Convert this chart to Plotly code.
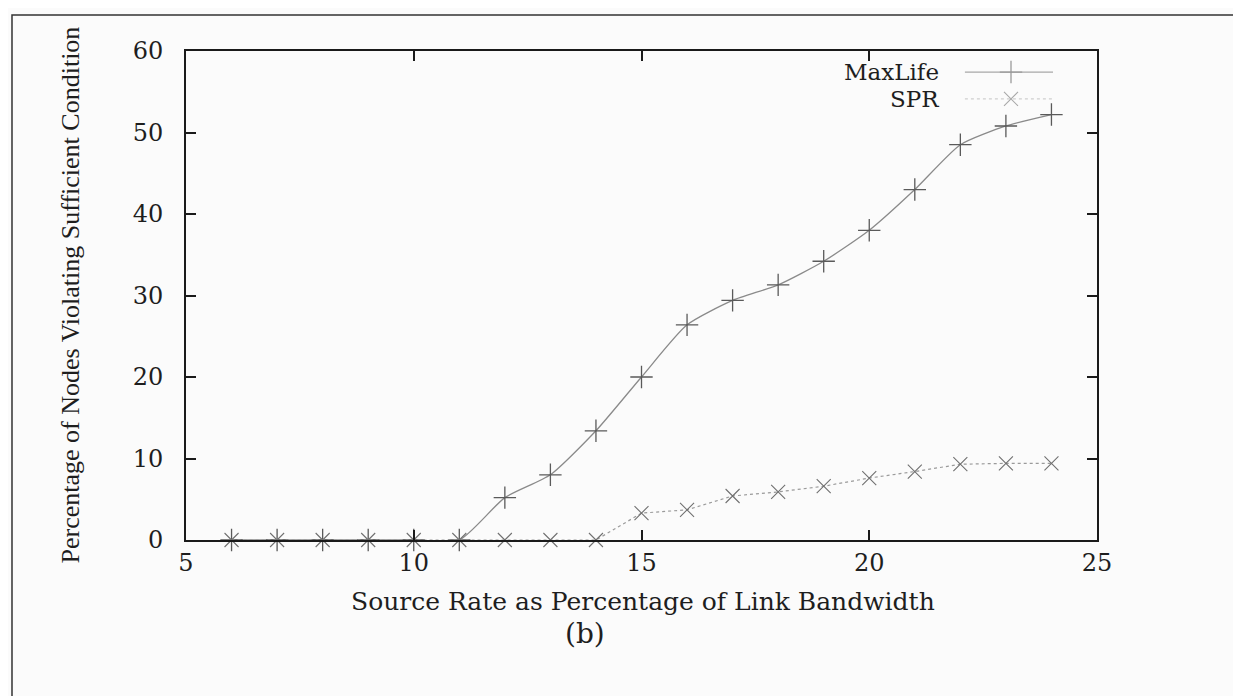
import plotly.graph_objects as go

# ---- data ----
x_rate = [6, 7, 8, 9, 10, 11, 12, 13, 14, 15, 16, 17, 18, 19, 20, 21, 22, 23, 24]
maxlife = [0, 0, 0, 0, 0, 0, 5.2, 8.0, 13.4, 20.0, 26.4, 29.4, 31.3, 34.2, 38.0, 43.0, 48.5, 50.8, 52.2]
spr = [0, 0, 0, 0, 0, 0, 0, 0, 0, 3.3, 3.7, 5.4, 5.9, 6.6, 7.6, 8.4, 9.3, 9.4, 9.4]
x_ticks = [5, 10, 15, 20, 25]
y_ticks = [0, 10, 20, 30, 40, 50, 60]
series_names = ["MaxLife", "SPR"]

FONT_H = "DejaVu Serif"       # horizontal text (scan is stretched horizontally)
FONT_V = "Liberation Serif"   # rotated title
TXT = "#1e1e1e"
LINE_GRAY = "#8a8a8a"
MARK_GRAY = "#5a5a5a"

fig = go.Figure()

fig.add_trace(go.Scatter(
    x=x_rate, y=maxlife, mode="lines+markers", name=series_names[0],
    line=dict(color=LINE_GRAY, width=1.3, shape="spline", smoothing=0.6),
    marker=dict(symbol="cross-thin", size=16, line=dict(color=MARK_GRAY, width=1.3)),
    showlegend=False, cliponaxis=False))

fig.add_trace(go.Scatter(
    x=x_rate, y=spr, mode="lines+markers", name=series_names[1],
    line=dict(color="#9a9a9a", width=1.2, dash="3px,3px"),
    marker=dict(symbol="x-thin", size=14, line=dict(color="#707070", width=1.1)),
    showlegend=False, cliponaxis=False))

# legend samples drawn on an invisible overlay axis (0..1 box)
LEG_Y1, LEG_Y2 = 0.957, 0.902
fig.add_trace(go.Scatter(
    x=[0.855, 0.9056, 0.9517], y=[LEG_Y1] * 3, xaxis="x2", yaxis="y2",
    mode="lines", line=dict(color="#a8a8a8", width=1.2), showlegend=False, hoverinfo="skip"))
fig.add_trace(go.Scatter(
    x=[0.9056], y=[LEG_Y1], xaxis="x2", yaxis="y2", mode="markers",
    marker=dict(symbol="cross-thin", size=16, line=dict(color="#9a9a9a", width=1.3)),
    showlegend=False, hoverinfo="skip"))
fig.add_trace(go.Scatter(
    x=[0.855, 0.9056, 0.9517], y=[LEG_Y2] * 3, xaxis="x2", yaxis="y2",
    mode="lines", line=dict(color="#d0d0d0", width=1.1, dash="3px,3px"), showlegend=False, hoverinfo="skip"))
fig.add_trace(go.Scatter(
    x=[0.9056], y=[LEG_Y2], xaxis="x2", yaxis="y2", mode="markers",
    marker=dict(symbol="x-thin", size=14, line=dict(color="#a8a8a8", width=1.1)),
    showlegend=False, hoverinfo="skip"))

axis_common = dict(
    showgrid=False, zeroline=False, showline=True, linecolor="#1a1a1a", linewidth=2,
    mirror="ticks", ticks="inside", ticklen=10, tickwidth=1.5, tickcolor="#1a1a1a",
    tickfont=dict(family=FONT_H, size=24, color=TXT))

fig.update_layout(
    width=1241, height=696, autosize=False,
    margin=dict(l=178, r=152, t=43, b=164),
    paper_bgcolor="#fbfbfb", plot_bgcolor="rgba(0,0,0,0)",
    xaxis=dict(range=[5, 25], tickvals=x_ticks, ticklabelstandoff=0, **axis_common),
    yaxis=dict(range=[0, 60], tickvals=y_ticks, ticklabelstandoff=16, **axis_common),
    xaxis2=dict(range=[0, 1], overlaying="x", visible=False),
    yaxis2=dict(range=[0, 1], overlaying="y", visible=False),
    showlegend=False,
    annotations=[
        dict(text="Source Rate as Percentage of Link Bandwidth", xref="paper", yref="paper",
             x=0.5017, y=-0.126, xanchor="center", yanchor="middle", showarrow=False,
             font=dict(family=FONT_H, size=25, color=TXT)),
        dict(text="(b)", xref="paper", yref="paper", x=0.438, y=-0.192,
             xanchor="center", yanchor="middle", showarrow=False,
             font=dict(family=FONT_H, size=28, color=TXT)),
        dict(text="Percentage of Nodes Violating Sufficient Condition", xref="paper", yref="paper",
             x=-0.1273, y=0.5, xanchor="center", yanchor="middle", textangle=-90, showarrow=False,
             font=dict(family=FONT_V, size=26, color=TXT)),
        dict(text=series_names[0], xref="paper", yref="paper", x=0.8288, y=LEG_Y1,
             xanchor="right", yanchor="middle", showarrow=False,
             font=dict(family=FONT_H, size=23, color=TXT)),
        dict(text=series_names[1], xref="paper", yref="paper", x=0.8288, y=LEG_Y2,
             xanchor="right", yanchor="middle", showarrow=False,
             font=dict(family=FONT_H, size=23, color=TXT)),
    ],
    shapes=[
        dict(type="rect", xref="paper", yref="paper", x0=-0.191, x1=1.1647, y0=-0.331, y1=1.0736,
             line=dict(color="#333333", width=1.5), fillcolor="rgba(0,0,0,0)", layer="below"),
    ],
)

fig.write_html("out.html")
